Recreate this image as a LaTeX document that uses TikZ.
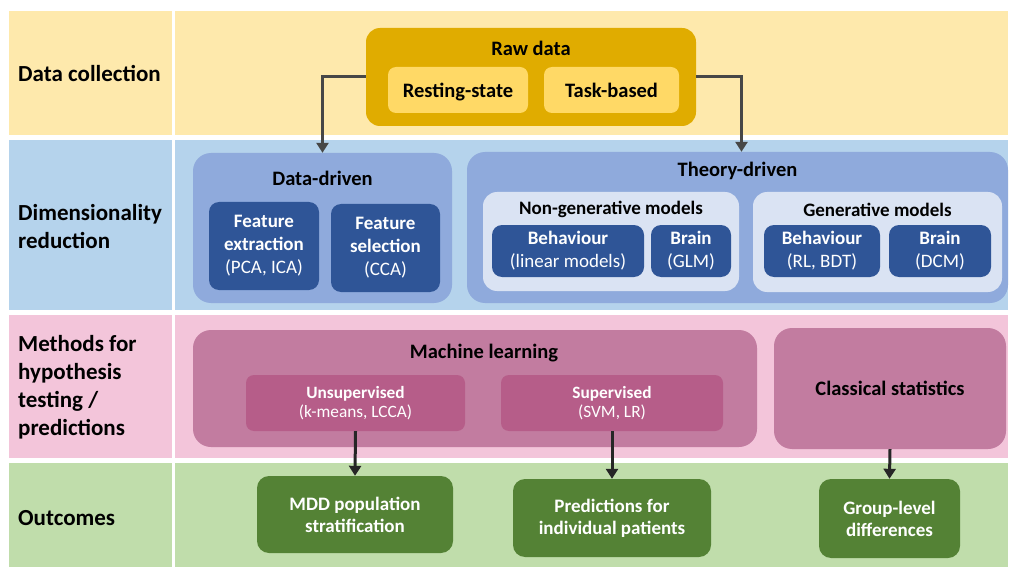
\documentclass[tikz,border=0pt]{standalone}
\usepackage{fontspec}
\setmainfont{Carlito}
\usetikzlibrary{arrows.meta}
\definecolor{yband}{HTML}{FEE9AC}
\definecolor{bband}{HTML}{B5D3EC}
\definecolor{pband}{HTML}{F3C5DA}
\definecolor{gband}{HTML}{C0DDAB}
\definecolor{rawc}{HTML}{E0AC00}
\definecolor{rawin}{HTML}{FFD966}
\definecolor{midb}{HTML}{8FAADC}
\definecolor{darkb}{HTML}{2F5597}
\definecolor{paleb}{HTML}{DAE3F3}
\definecolor{mauve}{HTML}{C27CA0}
\definecolor{mauvein}{HTML}{B65D89}
\definecolor{outg}{HTML}{548235}
\definecolor{arrc}{HTML}{262626}
\newcommand\cbox[7]{\node[#2, minimum width={(#5)-(#3)}, minimum height={(#6)-(#4)}] (#1) at ({((#3)+(#5))/2},{((#4)+(#6))/2}) {#7};}
\begin{document}
\begin{tikzpicture}[x=1pt,y=-1pt,
  base/.style={inner sep=0pt, align=center, font=\bfseries},
  lab/.style={inner sep=0pt, align=left, anchor=west, font=\fontsize{23}{28}\selectfont\bfseries},
  ttl/.style={inner sep=0pt, align=center, font=\fontsize{20.5}{24}\selectfont\bfseries},
  subttl/.style={inner sep=0pt, align=center, font=\fontsize{19}{22}\selectfont\bfseries},
  rawbox/.style={base, fill=rawc, rounded corners=14pt},
  ylbox/.style={base, fill=rawin, rounded corners=8pt, text height=18pt, text depth=2pt, font=\fontsize{20.5}{24}\selectfont\bfseries},
  midbox/.style={base, fill=midb, rounded corners=18pt},
  palebox/.style={base, fill=paleb, rounded corners=14pt},
  dbox/.style={base, fill=darkb, text=white, rounded corners=10pt, font=\fontsize{19}{23}\selectfont\bfseries},
  mlbox/.style={base, fill=mauve, rounded corners=18pt, font=\fontsize{20.5}{24}\selectfont\bfseries},
  mlin/.style={base, fill=mauvein, text=white, rounded corners=8pt, font=\fontsize{17.3}{19}\selectfont\bfseries},
  outbox/.style={base, fill=outg, text=white, rounded corners=12pt, font=\fontsize{19}{22}\selectfont\bfseries},
  arr/.style={draw=arrc, line width=3pt, -{Triangle[length=10pt,width=12pt]}},
  garr/.style={draw=arrc!85, line width=3pt, -{Triangle[length=10pt,width=12pt]}}
]
\useasboundingbox (0,0) rectangle (1010,567);
\fill[white] (0,0) rectangle (1010,567);
% bands
\fill[yband] (9,11) rectangle (172,135);
\fill[yband] (175,11) rectangle (1008,135);
\fill[bband] (9,140) rectangle (172,310);
\fill[bband] (175,140) rectangle (1008,310);
\fill[pband] (9,315) rectangle (172,458);
\fill[pband] (175,315) rectangle (1008,458);
\fill[gband] (9,463) rectangle (172,567);
\fill[gband] (175,463) rectangle (1008,567);
% row labels
\node[lab] (l1) at (18,73) {Data collection};
\node[lab] (l2) at (18,227) {Dimensionality\\reduction};
\node[lab] (l3) at (18,387) {Methods for\\hypothesis\\testing /\\predictions};
\node[lab] (l4) at (18,518) {Outcomes};
% raw data
\cbox{raw}{rawbox}{366}{28}{696}{126}{}
\node[ttl] (rawT) at (531,48) {Raw data};
\cbox{rest}{ylbox}{388}{67}{528}{113}{Resting-state}
\cbox{task}{ylbox}{544}{67}{679}{113}{Task-based}
% data-driven
\cbox{dd}{midbox}{193}{153}{452}{303}{}
\node[ttl] (ddT) at (322.5,178) {Data-driven};
\cbox{fe}{dbox}{209}{202}{319}{290}{Feature\\extraction\\\mdseries (PCA, ICA)}
\cbox{fs}{dbox}{331}{204}{440}{292}{Feature\\selection\\\mdseries (CCA)}
% theory-driven
\cbox{td}{midbox}{467}{152}{1008}{303}{}
\node[ttl] (tdT) at (737.5,171) {Theory-driven};
\cbox{ng}{palebox}{483}{192}{739}{291}{}
\node[subttl] (ngT) at (611,209) {Non-generative models};
\cbox{bl}{dbox}{492}{225}{644}{277}{Behaviour\\\mdseries (linear models)}
\cbox{bg}{dbox}{651}{225}{731}{277}{Brain\\\mdseries (GLM)}
\cbox{gm}{palebox}{753}{192}{1002}{292}{}
\node[subttl] (gmT) at (877.5,210) {Generative models};
\cbox{br}{dbox}{764}{225}{880}{277}{Behaviour\\\mdseries (RL, BDT)}
\cbox{bd}{dbox}{889}{225}{991}{277}{Brain\\\mdseries (DCM)}
% methods
\cbox{ml}{mlbox}{193}{330}{757}{447}{}
\node[ttl] (mlT) at (484,353) {Machine learning};
\cbox{un}{mlin}{246}{375}{465}{431}{Unsupervised\\\mdseries (k-means, LCCA)}
\cbox{su}{mlin}{501}{375}{723}{431}{Supervised\\\mdseries (SVM, LR)}
\cbox{cs}{mlbox}{774}{328}{1006}{449}{Classical statistics}
% outcomes
\cbox{mdd}{outbox}{257}{476}{453}{553}{MDD population\\stratification}
\cbox{pr}{outbox}{513}{479}{711}{557}{Predictions for\\individual patients}
\cbox{gr}{outbox}{819}{479}{960}{558}{Group-level\\differences}
% connectors
\draw[garr] (raw.west) -| (dd.north);
\draw[garr] (raw.east) -| ([xshift=4pt]td.north);
\draw[arr] (un.south) -- (mdd.north);
\draw[arr] (su.south) -- (pr.north);
\draw[arr] (cs.south) -- (gr.north);
\end{tikzpicture}
\end{document}
